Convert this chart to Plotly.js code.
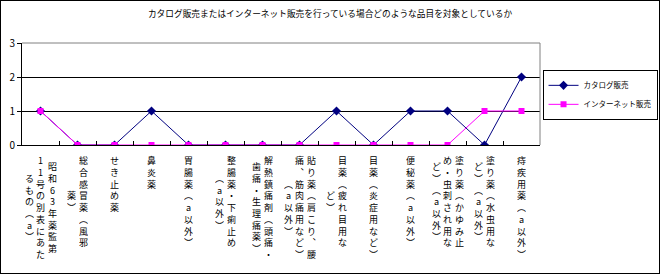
<!DOCTYPE html>
<html>
<head>
<meta charset="utf-8">
<script src="https://cdn.plot.ly/plotly-3.0.1.min.js"></script>
<style>
html, body { margin: 0; padding: 0; background: #fff; }
#chart { width: 658px; height: 272px; border: 1px solid #000; }
</style>
</head>
<body>
<div id="chart"></div>
<script>
// ---- data ----
const categories = [
  "昭和63年薬監第11号の別表にあたるもの（a）",
  "総合感冒薬（風邪薬）",
  "せき止め薬",
  "鼻炎薬",
  "胃腸薬（a以外）",
  "整腸薬・下痢止め（a以外）",
  "解熱鎮痛剤（頭痛・歯痛・生理痛薬）",
  "貼り薬（肩こり、腰痛、筋肉痛用など）（a以外）",
  "目薬（疲れ目用など）",
  "目薬（炎症用など）",
  "便秘薬（a以外）",
  "塗り薬（かゆみ止め・虫刺され用など）（a以外）",
  "塗り薬（水虫用など）（a以外）",
  "痔疾用薬（a以外）"
];
// vertical tick label columns (read right to left)
const labelColumns = [
  ["昭和63年薬監第", "11号の別表にあた", "るもの︵a︶"],
  ["総合感冒薬︵風邪", "薬︶"],
  ["せき止め薬"],
  ["鼻炎薬"],
  ["胃腸薬︵a以外︶"],
  ["整腸薬・下痢止め", "︵a以外︶"],
  ["解熱鎮痛剤︵頭痛・", "歯痛・生理痛薬︶"],
  ["貼り薬︵肩こり︑腰", "痛︑筋肉痛用など︶", "︵a以外︶"],
  ["目薬︵疲れ目用な", "ど︶"],
  ["目薬︵炎症用など︶"],
  ["便秘薬︵a以外︶"],
  ["塗り薬︵かゆみ止", "め・虫刺され用な", "ど︶︵a以外︶"],
  ["塗り薬︵水虫用な", "ど︶︵a以外︶"],
  ["痔疾用薬︵a以外︶"]
];
const catalogSales  = [1, 0, 0, 1, 0, 0, 0, 0, 1, 0, 1, 1, 0, 2];
const internetSales = [1, 0, 0, 0, 0, 0, 0, 0, 0, 0, 0, 0, 1, 1];
const seriesNames = ["カタログ販売", "インターネット販売"];
const titleText = "カタログ販売またはインターネット販売を行っている場合どのような品目を対象としているか";
const yTicks = [0, 1, 2, 3];

// ---- chart ----
const FONT = '"MS PGothic", "Noto Sans CJK JP", sans-serif';
const labelSize = 9;
const lineH = labelSize * 1.3;
const colGap = 11.5;

const traces = [
  {
    x: categories, y: catalogSales, name: seriesNames[0],
    type: 'scatter', mode: 'lines+markers',
    line: { color: '#000080', width: 1 },
    marker: { symbol: 'diamond', size: 7, color: '#000080' }
  },
  {
    x: categories, y: internetSales, name: seriesNames[1],
    type: 'scatter', mode: 'lines+markers',
    line: { color: '#FF00FF', width: 1 },
    marker: { symbol: 'square', size: 6, color: '#FF00FF' }
  }
];

const annotations = [];
categories.forEach((cat, i) => {
  const cols = labelColumns[i];
  const n = cols.length;
  const maxLen = Math.max(...cols.map(c => Array.from(c).length));
  cols.forEach((col, j) => {
    annotations.push({
      x: cat, xref: 'x', y: 0, yref: 'paper',
      yanchor: 'top', xanchor: 'center',
      yshift: -8,
      xshift: ((n - 1) / 2 - j) * colGap,
      text: Array.from(col).join('<br>'),
      showarrow: false,
      height: maxLen * lineH + 2,
      valign: 'middle',
      align: 'center',
      borderpad: 0,
      font: { family: FONT, size: labelSize, color: '#000' }
    });
  });
});

const layout = {
  width: 658, height: 272,
  margin: { l: 21, r: 119, t: 42, b: 128, pad: 0, autoexpand: false },
  paper_bgcolor: '#fff', plot_bgcolor: '#fff',
  font: { family: FONT, size: 10, color: '#000' },
  title: {
    text: titleText,
    font: { family: FONT, size: 8.7, color: '#000' },
    x: 0.5, xanchor: 'center', xref: 'container',
    y: 0.952, yanchor: 'middle', yref: 'container'
  },
  showlegend: true,
  legend: {
    xref: 'container', yref: 'container',
    x: 0.823, xanchor: 'left', y: 0.655, yanchor: 'middle',
    bordercolor: '#000', borderwidth: 1, bgcolor: '#fff',
    font: { family: FONT, size: 7.5, color: '#000' },
    tracegroupgap: 0, itemwidth: 30
  },
  xaxis: {
    type: 'category', range: [-0.5, categories.length - 0.5],
    showline: true, linecolor: '#000', linewidth: 1,
    ticks: 'inside', tickson: 'boundaries', ticklen: 4, tickcolor: '#000',
    showticklabels: false, showgrid: false, zeroline: false,
    fixedrange: true
  },
  yaxis: {
    range: [0, 3], tickvals: yTicks, ticktext: yTicks.map(String),
    showline: true, linecolor: '#000', linewidth: 1,
    ticks: 'outside', ticklen: 4, tickcolor: '#000',
    showgrid: true, gridcolor: '#000', gridwidth: 1,
    zeroline: false,
    tickfont: { family: FONT, size: 10, color: '#000' },
    fixedrange: true
  },
  shapes: [
    { type: 'line', xref: 'paper', yref: 'paper', x0: 0, x1: 1, y0: 1, y1: 1,
      line: { color: '#808080', width: 1 }, layer: 'above' },
    { type: 'line', xref: 'paper', yref: 'paper', x0: 1, x1: 1, y0: 0, y1: 1,
      line: { color: '#808080', width: 1 }, layer: 'above' }
  ],
  annotations: annotations
};

Plotly.newPlot('chart', traces, layout, { displayModeBar: false, staticPlot: true });
</script>
</body>
</html>
